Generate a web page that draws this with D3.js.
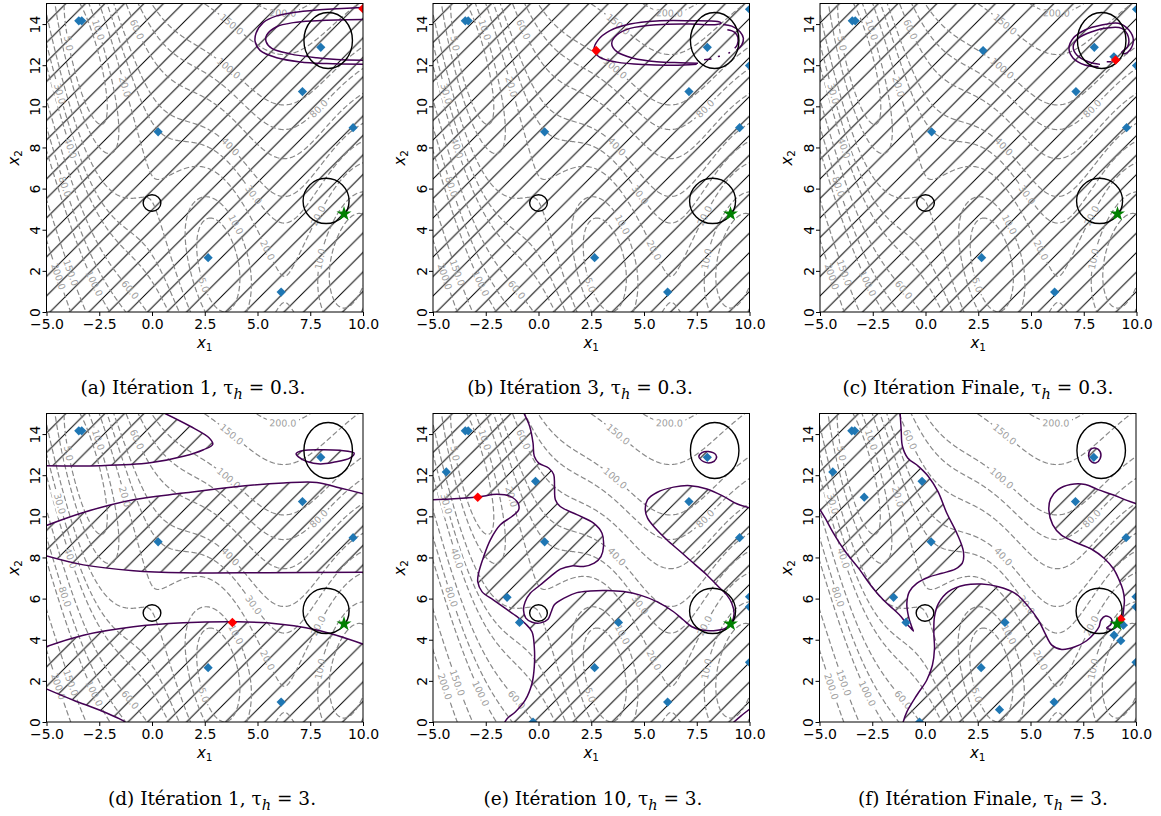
<!DOCTYPE html>
<html lang="fr">
<head>
<meta charset="utf-8">
<script src="https://cdn.jsdelivr.net/npm/d3@7"></script>
<style>
  html, body { margin: 0; padding: 0; background: #fff; }
  svg { display: block; }
</style>
</head>
<body>
<svg id="fig" width="1161" height="816"></svg>
<script>
// ---------- axes ----------
const xTicks = [-5, -2.5, 0, 2.5, 5, 7.5, 10];
const yTicks = [0, 2, 4, 6, 8, 10, 12, 14];

// ---------- Branin objective: contour levels and inline label anchors ----------
const levels = [5, 10, 20, 30, 40, 60, 80, 100, 150, 200];
const contourLabels = [
  [200, 6.2, 14.43], [150, 3.7, 13.9], [100, 3.55, 11.76], [80, 7.97, 9.82],
  [40, 3.55, 7.88], [30, 4.81, 5.69], [10, 3.7, 4.1], [20, 5.12, 2.88], [5, 2.67, 1.4],
  [10, 8.2, 2.54], [20, 7.97, 4.64],
  [10, -2.61, 13.7], [5, -3.96, 13.06], [60, -0.8, 13.7], [30, -4.43, 10.6], [20, -1.5, 10.9],
  [40, -3.9, 7.95], [80, -4.11, 6.1], [200, -4.43, 1.73], [150, -3.88, 1.9], [100, -2.69, 1.41], [60, -1.03, 1.08]
];

// ---------- constraint boundaries (cx, cy, rx, ry) ----------
const constraintShapes = [[0.0, 5.3, 0.42, 0.40], [8.25, 5.4, 1.09, 1.1], [8.35, 13.2, 1.15, 1.36]];
const optimum = [9.1, 4.77];

// ---------- evaluated points ----------
const initialPoints = [[-3.47, 14.16], [-3.33, 14.16], [8.0, 12.87], [7.13, 10.72], [0.29, 8.76], [9.53, 8.96], [2.66, 2.64], [6.12, 0.97]];
const itersB = [[10, 14.72], [10, 11.98]];
const itersC = [[2.73, 12.71], [8.93, 12.41]];
const itersE = [[-4.37, 12.16], [-0.14, 11.7], [-1.49, 6.06], [-0.9, 4.84], [3.79, 4.84], [-0.26, 0.0], [10, 6.09], [10, 5.6], [10, 2.9]];
const itersF = [[-2.88, 10.93], [3.53, 0.6], [8.96, 4.22], [9.28, 3.95], [9.4, 4.71]];
const candidates = [[10, 14.75], [2.73, 12.71], [9.01, 12.25], [3.81, 4.84], [-2.88, 10.93], [9.28, 5.0]];

// ---------- threshold contours, tau_h = 0.3 ----------
const aOuter = [[10.3, 14.82], [9.94, 14.8], [8.76, 14.74], [7.81, 14.68], [6.70, 14.56], [5.91, 14.4], [5.28, 14.08], [4.93, 13.55], [4.89, 13.14], [5.12, 12.72], [5.91, 12.36], [7.02, 12.16], [8.28, 12.08], [10.3, 12.04]];
const aInner = [[10.3, 14.22], [8.76, 14.2], [7.81, 14.16], [6.70, 14.07], [5.91, 13.87], [5.44, 13.47], [5.41, 13.14], [5.68, 12.82], [6.54, 12.55], [7.81, 12.36], [8.76, 12.28], [10.3, 12.24]];
const bLoop = [[7.56, 12.1], [6.71, 12.12], [5.60, 12.17], [4.49, 12.34], [3.71, 12.66], [3.47, 13.06], [3.71, 13.47], [4.34, 13.79], [5.60, 13.97], [7.18, 14.0], [8.45, 13.98], [8.65, 14.05], [8.5, 14.12], [7.18, 14.16], [5.60, 14.15], [4.34, 14.0], [3.39, 13.68], [2.83, 13.23], [2.63, 12.74], [2.91, 12.38], [3.71, 12.15], [4.97, 12.03], [6.39, 12.0], [7.5, 12.05]];
const bArcOuter = [[8.75, 13.98], [9.16, 13.9], [9.55, 13.63], [9.71, 13.31], [9.63, 12.98], [9.39, 12.74]];
const bArcInner = [[8.95, 13.72], [9.3, 13.6], [9.45, 13.35], [9.42, 13.0], [9.3, 12.82]];
const bFragments = [[[7.85, 12.27], [8.2, 12.3]], [[8.5, 12.42], [8.6, 12.43]], [[9.0, 12.58], [9.08, 12.62]]];
const cLoop = [[8.2, 11.93], [7.56, 12.01], [7.0, 12.34], [6.80, 12.82], [7.0, 13.31], [7.56, 13.71], [8.35, 13.95], [9.14, 14.04], [9.64, 13.71], [9.85, 13.23], [9.69, 12.74], [9.45, 12.56], [9.30, 12.62], [9.58, 12.9], [9.61, 13.39], [9.30, 13.79], [8.67, 13.82], [7.88, 13.63], [7.24, 13.31], [7.0, 12.9], [7.17, 12.5], [7.72, 12.17], [8.27, 12.04]];
const cDash = [[8.59, 12.17], [8.82, 12.17]];

// ---------- threshold contours, tau_h = 3 (iteration 1) ----------
const dTop = [[-5.05, 12.46], [-2.46, 12.46], [-0.09, 12.6], [1.49, 12.92], [2.44, 13.24], [2.88, 13.5], [2.7, 13.82], [1.81, 14.38], [0.52, 15.05]];
const dBandUpper = [[-5.05, 9.54], [-3.25, 10.19], [-0.88, 10.81], [1.49, 11.13], [3.86, 11.43], [6.23, 11.62], [7.81, 11.65], [8.91, 11.38], [10.05, 11.09]];
const dBandLower = [[-5.05, 8.09], [-3.25, 7.64], [-0.88, 7.36], [1.49, 7.26], [5.44, 7.26], [10.05, 7.28]];
const dBottomUpper = [[-5.05, 3.65], [-3.25, 4.22], [-0.88, 4.63], [1.49, 4.82], [3.86, 4.87], [5.44, 4.82], [7.81, 4.47], [10.05, 3.77]];
const dBottomLower = [[-5.05, 1.63], [-3.72, 1.06], [-2.46, 0.57], [-1.35, 0.05], [-1.26, -0.05]];
const dSmall = [[6.83, 13.05], [7.17, 13.2], [7.97, 13.24], [8.91, 13.21], [9.58, 13.08], [9.39, 12.84], [8.6, 12.63], [7.97, 12.55], [7.34, 12.67], [6.94, 12.89]];

// ---------- threshold contours, tau_h = 3 (iteration 10) ----------
const eWest = [[-5.05, 10.81], [-4.18, 10.84], [-2.88, 10.94], [-1.97, 11.07], [-1.34, 10.97], [-0.97, 10.64], [-0.94, 10.32], [-1.26, 9.99], [-1.81, 9.59], [-2.28, 8.86], [-2.6, 8.04], [-2.84, 7.23], [-2.88, 6.82], [-2.68, 6.34], [-2.13, 5.93], [-1.57, 5.52], [-1.02, 5.12], [-0.63, 4.79], [-0.31, 4.39], [-0.2, 3.66], [-0.2, 2.68], [-0.31, 1.87], [-0.63, 1.06], [-1.1, 0.49], [-1.49, 0.16], [-1.62, -0.05]];
const eEast = [[-0.71, 15.05], [-0.42, 14.38], [-0.26, 13.57], [-0.2, 12.92], [0.01, 12.59], [0.48, 12.35], [0.72, 12.03], [0.76, 11.46], [0.8, 10.81], [1.03, 10.48], [1.82, 10.08], [2.61, 9.67], [3.01, 9.18], [3.08, 8.53], [2.96, 8.04], [2.64, 7.72], [2.14, 7.56], [1.58, 7.59], [1.03, 7.43], [0.56, 7.07], [0.08, 6.66], [-0.39, 6.26], [-0.63, 5.85], [-0.71, 5.44], [-0.6, 5.05], [-0.3, 4.85], [0.1, 4.82], [0.45, 5.0], [0.6, 5.35], [0.75, 5.7], [1.19, 6.01], [1.82, 6.29], [2.45, 6.37], [3.24, 6.39], [4.03, 6.34], [4.82, 6.17], [5.61, 5.85], [6.4, 5.36], [6.87, 4.96], [7.27, 4.63], [7.74, 4.47], [8.3, 4.44], [8.85, 4.55], [9.16, 4.87], [9.27, 5.28], [9.16, 5.77], [8.93, 6.17], [8.53, 6.58], [7.98, 7.15], [7.35, 7.72], [6.72, 8.29], [6.08, 8.86], [5.53, 9.43], [5.17, 9.91], [5.06, 10.32], [5.17, 10.81], [5.61, 11.16], [6.4, 11.42], [7.19, 11.49], [7.98, 11.33], [8.77, 10.97], [9.4, 10.61], [10.05, 10.4]];
const eCorner = [[9.21, -0.05], [9.6, 0.3], [10.05, 0.66]];
const eTiny = [[7.6, 12.9], [7.75, 13.1], [8.05, 13.15], [8.4, 13.0], [8.42, 12.8], [8.2, 12.62], [7.85, 12.65]];

// ---------- threshold contours, tau_h = 3 (final iteration) ----------
const fWest = [[-1.18, 15.05], [-1.13, 14.22], [-1.07, 13.41], [-0.82, 12.84], [-0.31, 12.43], [0.16, 11.94], [0.61, 11.21], [1.03, 10.16], [1.51, 9.18], [1.82, 8.29], [1.77, 7.72], [1.43, 7.43], [0.8, 7.23], [0.16, 7.04], [-0.39, 6.74], [-0.74, 6.34], [-0.86, 5.77], [-0.78, 5.12], [-0.63, 4.63], [-0.55, 4.42], [-0.66, 4.55], [-0.86, 4.76], [-1.13, 5.12], [-1.49, 5.48], [-1.97, 5.93], [-2.52, 6.58], [-3.15, 7.48], [-3.78, 8.29], [-4.34, 9.18], [-4.73, 9.91], [-5.05, 10.45]];
const fEast = [[-1.05, -0.05], [-0.86, 0.49], [-0.39, 1.3], [0.08, 2.03], [0.35, 2.76], [0.45, 3.57], [0.42, 4.31], [0.45, 5.12], [0.64, 5.77], [1.11, 6.34], [1.9, 6.66], [2.69, 6.71], [3.48, 6.58], [4.27, 6.26], [4.9, 5.61], [5.37, 4.96], [5.69, 4.31], [6.01, 3.74], [6.48, 3.53], [7.11, 3.66], [7.66, 3.95], [8.03, 4.31], [8.25, 4.63], [8.34, 4.96], [8.56, 5.15], [8.82, 5.04], [8.82, 4.76], [8.61, 4.58], [8.85, 4.5], [9.16, 4.71], [9.35, 5.04], [9.42, 5.52], [9.45, 5.95], [9.38, 6.42], [9.2, 6.91], [8.93, 7.45], [8.5, 7.95], [7.9, 8.4], [7.1, 8.75], [6.45, 9.1], [6.05, 9.6], [5.87, 10.3], [5.95, 10.85], [6.3, 11.3], [6.9, 11.55], [7.6, 11.55], [8.2, 11.3], [8.9, 11.05], [9.5, 10.8], [10.05, 10.6]];
const fTiny = [[7.75, 12.95], [7.85, 13.25], [8.05, 13.32], [8.3, 13.15], [8.3, 12.8], [8.1, 12.6], [7.9, 12.65]];

// ---------- captions ----------
const captionLetters = ['a', 'b', 'c', 'd', 'e', 'f'];
const captionIters = ['1', '3', 'Finale', '1', '10', 'Finale'];
const captionTau = ['0.3', '0.3', '0.3', '3', '3', '3'];

// ================= drawing =================
const W = 316.5, H = 308.5;
const panelPos = [[46.5, 3.5], [433, 3.5], [820, 3.5], [46.5, 413.5], [433, 413.5], [819.5, 413.5]];
const captionCenter = [[193, 394], [580, 394], [978, 394], [212, 805], [593, 805], [983, 805]];

const svg = d3.select('#fig');
const defs = svg.append('defs');

const x = d3.scaleLinear().domain([-5, 10]).range([0, W]);
const y = d3.scaleLinear().domain([0, 15]).range([H, 0]);

// hatch pattern "/"
const hs = 19.5;
defs.append('pattern').attr('id', 'hatch').attr('patternUnits', 'userSpaceOnUse')
  .attr('width', hs).attr('height', hs)
  .append('path')
  .attr('d', `M0,${hs} L${hs},0 M-2,2 L2,-2 M${hs - 2},${hs + 2} L${hs + 2},${hs - 2}`)
  .attr('stroke', '#000').attr('stroke-width', 1).attr('fill', 'none');

// Branin function and gradient
const bB = 5.1 / (4 * Math.PI * Math.PI), cB = 5 / Math.PI, tB = 1 / (8 * Math.PI);
function branin(x1, x2) {
  const u = x2 - bB * x1 * x1 + cB * x1 - 6;
  return u * u + 10 * (1 - tB) * Math.cos(x1) + 10;
}
function braninGrad(x1, x2) {
  const u = x2 - bB * x1 * x1 + cB * x1 - 6;
  return [2 * u * (-2 * bB * x1 + cB) - 10 * (1 - tB) * Math.sin(x1), 2 * u];
}

// sampled grid for the dashed contours
const step = 0.04, gx0 = -5.6, gy0 = -0.6, nx = 406, ny = 406;
const grid = new Array(nx * ny);
for (let j = 0; j < ny; j++) for (let i = 0; i < nx; i++) grid[j * nx + i] = branin(gx0 + i * step, gy0 + j * step);
const contourSet = d3.contours().size([nx, ny]).thresholds(levels)(grid);
const gridProj = d3.geoTransform({
  point(px, py) { this.stream.point(x(gx0 + (px - 0.5) * step), y(gy0 + (py - 0.5) * step)); }
});
const contourPath = d3.geoPath(gridProj);

// inline labels: snap to the level curve, orient along it
const measure = svg.append('text').attr('font-family', 'DejaVu Sans').attr('font-size', 9.5).attr('opacity', 0);
const sx = W / 15, sy = H / 15;
const labelGeom = contourLabels.map(([lv, lx, ly]) => {
  let px = lx, py = ly;
  for (let k = 0; k < 10; k++) {
    const f = branin(px, py) - lv;
    const [gx, gy] = braninGrad(px, py);
    const g2 = gx * gx + gy * gy;
    px -= f * gx / g2; py -= f * gy / g2;
  }
  const [gx, gy] = braninGrad(px, py);
  let ang = Math.atan2(gx / sx, gy / sy) * 180 / Math.PI;
  if (ang > 90) ang -= 180;
  if (ang < -90) ang += 180;
  const txt = d3.format('.1f')(lv);
  measure.text(txt);
  const w = measure.node().getComputedTextLength();
  return { txt, u: x(px), v: y(py), ang, w };
});
measure.remove();

const mask = defs.append('mask').attr('id', 'lblmask').attr('maskUnits', 'userSpaceOnUse')
  .attr('x', -60).attr('y', -60).attr('width', W + 120).attr('height', H + 120);
mask.append('rect').attr('x', -60).attr('y', -60).attr('width', W + 120).attr('height', H + 120).attr('fill', '#fff');
labelGeom.forEach(l => {
  mask.append('rect').attr('x', -l.w / 2 - 2.5).attr('y', -5.5).attr('width', l.w + 5).attr('height', 11)
    .attr('transform', `translate(${l.u},${l.v}) rotate(${l.ang})`).attr('fill', '#000');
});

// path helpers
const smoothLine = d3.line().x(d => x(d[0])).y(d => y(d[1])).curve(d3.curveCatmullRom.alpha(0.5));
const closedLine = d3.line().x(d => x(d[0])).y(d => y(d[1])).curve(d3.curveCatmullRomClosed.alpha(0.5));
function regionPath(parts) {
  let d = '';
  parts.forEach((part, k) => {
    const pts = part.rev ? part.pts.slice().reverse() : part.pts;
    let s;
    if (part.edge) s = pts.map((q, i) => (i ? 'L' : 'M') + x(q[0]) + ',' + y(q[1])).join('');
    else if (part.closed) s = closedLine(pts);
    else s = smoothLine(pts);
    if (k > 0) s = 'L' + s.slice(1);
    d += s;
  });
  return d + 'Z';
}
const outside = [[-5.6, -0.6], [10.6, -0.6], [10.6, 15.6], [-5.6, 15.6]];
const fullHatch = [[{ edge: true, pts: outside }]];

const panels = [
  { hatch: fullHatch, lines: [aOuter, aInner], loops: [], samples: initialPoints },
  { hatch: fullHatch, lines: [bLoop, bArcOuter, bArcInner, ...bFragments], loops: [], samples: initialPoints.concat(itersB) },
  { hatch: fullHatch, lines: [cLoop, cDash], loops: [], samples: initialPoints.concat(itersB, itersC) },
  {
    hatch: [
      [{ pts: dTop }, { edge: true, pts: [[-5.6, 15.6], [-5.6, 12.46]] }],
      [{ pts: dBandUpper }, { pts: dBandLower, rev: true }],
      [{ pts: dBottomUpper }, { edge: true, pts: [[10.6, -0.6]] }, { pts: dBottomLower, rev: true }],
      [{ pts: dSmall, closed: true }]
    ],
    lines: [dTop, dBandUpper, dBandLower, dBottomUpper, dBottomLower], loops: [dSmall], samples: initialPoints
  },
  {
    hatch: [
      [{ edge: true, pts: [[-5.6, 15.6]] }, { pts: eEast }, { edge: true, pts: [[10.6, 10.4], [10.6, 0.66]] },
       { pts: eCorner, rev: true }, { pts: eWest, rev: true }],
      [{ pts: eTiny, closed: true }]
    ],
    lines: [eWest, eEast, eCorner], loops: [eTiny], samples: initialPoints.concat(itersE)
  },
  {
    hatch: [
      [{ pts: fWest }, { edge: true, pts: [[-5.6, 15.6]] }],
      [{ pts: fEast }, { edge: true, pts: [[10.6, 10.6], [10.6, -0.6]] }],
      [{ pts: fTiny, closed: true }]
    ],
    lines: [fWest, fEast], loops: [fTiny], samples: initialPoints.concat(itersE, itersF)
  }
];

const diamond = r => `M0,${-r}L${r},0L0,${r}L${-r},0Z`;
const star = d3.symbol(d3.symbolStar, 70)();

panels.forEach((p, idx) => {
  const [left, top] = panelPos[idx];
  const g = svg.append('g').attr('transform', `translate(${left},${top})`);
  const clipId = 'clip' + idx;
  defs.append('clipPath').attr('id', clipId).append('rect').attr('width', W).attr('height', H);
  const plot = g.append('g').attr('clip-path', `url(#${clipId})`);

  // hatched regions
  p.hatch.forEach(parts => {
    plot.append('path').attr('d', regionPath(parts)).attr('fill', 'url(#hatch)').attr('fill-rule', 'evenodd').attr('stroke', 'none');
  });

  // dashed objective contours
  plot.append('g').attr('mask', 'url(#lblmask)')
    .selectAll('path').data(contourSet).join('path')
    .attr('d', contourPath).attr('fill', 'none')
    .attr('stroke', '#888').attr('stroke-width', 1.2).attr('stroke-dasharray', '5.5,2.6');

  plot.append('g').selectAll('text').data(labelGeom).join('text')
    .attr('transform', d => `translate(${d.u},${d.v}) rotate(${d.ang})`)
    .attr('text-anchor', 'middle').attr('dy', '0.35em')
    .attr('font-family', 'DejaVu Sans').attr('font-size', 9.5).attr('fill', '#a0a0a0')
    .text(d => d.txt);

  // threshold contour lines
  p.lines.forEach(pts => {
    plot.append('path').attr('d', smoothLine(pts)).attr('fill', 'none').attr('stroke', '#440154').attr('stroke-width', 1.5);
  });
  p.loops.forEach(pts => {
    plot.append('path').attr('d', closedLine(pts)).attr('fill', 'none').attr('stroke', '#440154').attr('stroke-width', 1.5);
  });

  // constraint boundaries
  plot.selectAll('ellipse').data(constraintShapes).join('ellipse')
    .attr('cx', d => x(d[0])).attr('cy', d => y(d[1]))
    .attr('rx', d => x(d[0] + d[2]) - x(d[0])).attr('ry', d => y(d[1] - d[3]) - y(d[1]))
    .attr('fill', 'none').attr('stroke', '#000').attr('stroke-width', 1.4);

  // evaluated points
  plot.append('g').selectAll('path').data(p.samples).join('path')
    .attr('d', diamond(4.6)).attr('transform', d => `translate(${x(d[0])},${y(d[1])})`)
    .attr('fill', '#1f77b4');

  // next candidate
  const c = candidates[idx];
  plot.append('path').attr('d', diamond(4.8)).attr('transform', `translate(${x(c[0])},${y(c[1])})`).attr('fill', '#ff0000');

  // constrained optimum
  plot.append('path').attr('d', star).attr('transform', `translate(${x(optimum[0])},${y(optimum[1])})`).attr('fill', '#008000');

  // frame
  g.append('rect').attr('width', W).attr('height', H).attr('fill', 'none').attr('stroke', '#000').attr('stroke-width', 1);

  // axes
  const xa = g.append('g').attr('transform', `translate(0,${H})`)
    .call(d3.axisBottom(x).tickValues(xTicks).tickFormat(d3.format('.1f')).tickSize(4).tickPadding(3.5));
  xa.select('.domain').remove();
  xa.attr('font-family', 'DejaVu Sans').attr('font-size', 14);
  xa.selectAll('text').attr('fill', '#000');

  const ya = g.append('g').call(d3.axisLeft(y).tickValues(yTicks).tickFormat(d3.format('d')).tickSize(4));
  ya.select('.domain').remove();
  ya.attr('font-family', 'DejaVu Sans').attr('font-size', 14);
  ya.selectAll('text').attr('fill', '#000').attr('text-anchor', 'middle').attr('x', 0).attr('dy', 0)
    .attr('transform', 'translate(-6.5,0) rotate(-90)');

  const xl = g.append('text').attr('x', W / 2).attr('y', H + 36).attr('text-anchor', 'middle')
    .attr('font-family', 'DejaVu Sans').attr('font-size', 15);
  xl.append('tspan').attr('font-style', 'italic').text('x');
  xl.append('tspan').attr('font-size', 10.5).attr('dy', 3).text('1');

  const yl = g.append('text').attr('transform', `translate(-28,${H / 2}) rotate(-90)`).attr('text-anchor', 'middle')
    .attr('font-family', 'DejaVu Sans').attr('font-size', 15);
  yl.append('tspan').attr('font-style', 'italic').text('x');
  yl.append('tspan').attr('font-size', 10.5).attr('dy', 3).text('2');

  // caption
  const [cxp, cyp] = captionCenter[idx];
  const cap = svg.append('text').attr('x', cxp).attr('y', cyp).attr('text-anchor', 'middle')
    .attr('font-family', 'DejaVu Serif').attr('font-size', 18.5).attr('fill', '#000');
  cap.append('tspan').text(`(${captionLetters[idx]}) Itération ${captionIters[idx]}, τ`);
  cap.append('tspan').attr('font-style', 'italic').attr('font-size', 14.5).attr('dy', 5).text('h');
  cap.append('tspan').attr('dy', -5).text(` = ${captionTau[idx]}.`);
});
</script>
</body>
</html>
